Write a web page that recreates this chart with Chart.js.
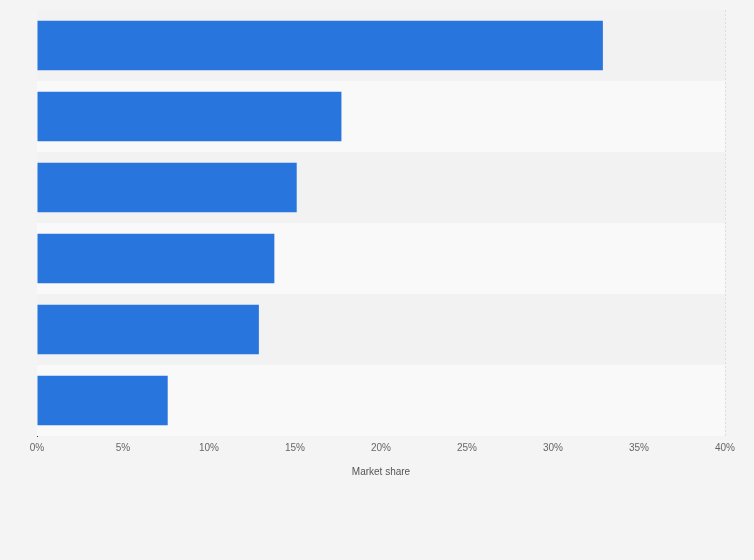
<!DOCTYPE html>
<html>
<head>
<meta charset="utf-8">
<script src="https://cdn.jsdelivr.net/npm/chart.js@4"></script>
<style>
  html, body { margin: 0; padding: 0; background: #f4f4f4; }
  #wrap { width: 754px; height: 560px; }
</style>
</head>
<body>
<div id="wrap"><canvas id="chart" width="754" height="560"></canvas></div>
<script>
const categories = ['1', '2', '3', '4', '5', '6'];
const shares = [32.9, 17.7, 15.1, 13.8, 12.9, 7.6];
const tickValues = [0, 5, 10, 15, 20, 25, 30, 35, 40];

// alternating row bands behind the bars
const bandPlugin = {
    id: 'bands',
    beforeDatasetsDraw(chart) {
        const { ctx, chartArea, scales } = chart;
        const y = scales.y;
        ctx.save();
        categories.forEach((c, i) => {
            const top = i === 0 ? chartArea.top : (y.getPixelForValue(i - 1) + y.getPixelForValue(i)) / 2;
            const bottom = i === categories.length - 1 ? chartArea.bottom : (y.getPixelForValue(i) + y.getPixelForValue(i + 1)) / 2;
            ctx.fillStyle = i % 2 === 0 ? '#f2f2f2' : '#f9f9f9';
            ctx.fillRect(chartArea.left, top, chartArea.right - chartArea.left, bottom - top);
        });
        ctx.restore();
    }
};

new Chart(document.getElementById('chart').getContext('2d'), {
    type: 'bar',
    data: {
        labels: categories,
        datasets: [{
            data: shares,
            backgroundColor: '#2876dd',
            barPercentage: 0.7,
            categoryPercentage: 1.0
        }]
    },
    options: {
        indexAxis: 'y',
        responsive: false,
        animation: false,
        layout: { padding: { left: 29, right: 29, top: 10, bottom: 78 } },
        plugins: { legend: { display: false }, tooltip: { enabled: false } },
        scales: {
            x: {
                min: 0,
                max: 40,
                afterBuildTicks: axis => { axis.ticks = tickValues.map(v => ({ value: v })); },
                ticks: {
                    callback: v => v + '%',
                    color: '#666',
                    font: { family: 'Arial, Liberation Sans', size: 10 },
                    padding: 6
                },
                grid: { color: '#dddddd', drawTicks: false, borderDash: [2, 2] },
                border: { display: false, dash: [2, 2] },
                title: {
                    display: true,
                    text: 'Market share',
                    color: '#555',
                    font: { family: 'Arial, Liberation Sans', size: 10 },
                    padding: { top: 6 }
                }
            },
            y: {
                ticks: { display: false },
                grid: { display: false },
                border: { color: '#333', width: 1 }
            }
        }
    },
    plugins: [bandPlugin]
});
</script>
</body>
</html>
